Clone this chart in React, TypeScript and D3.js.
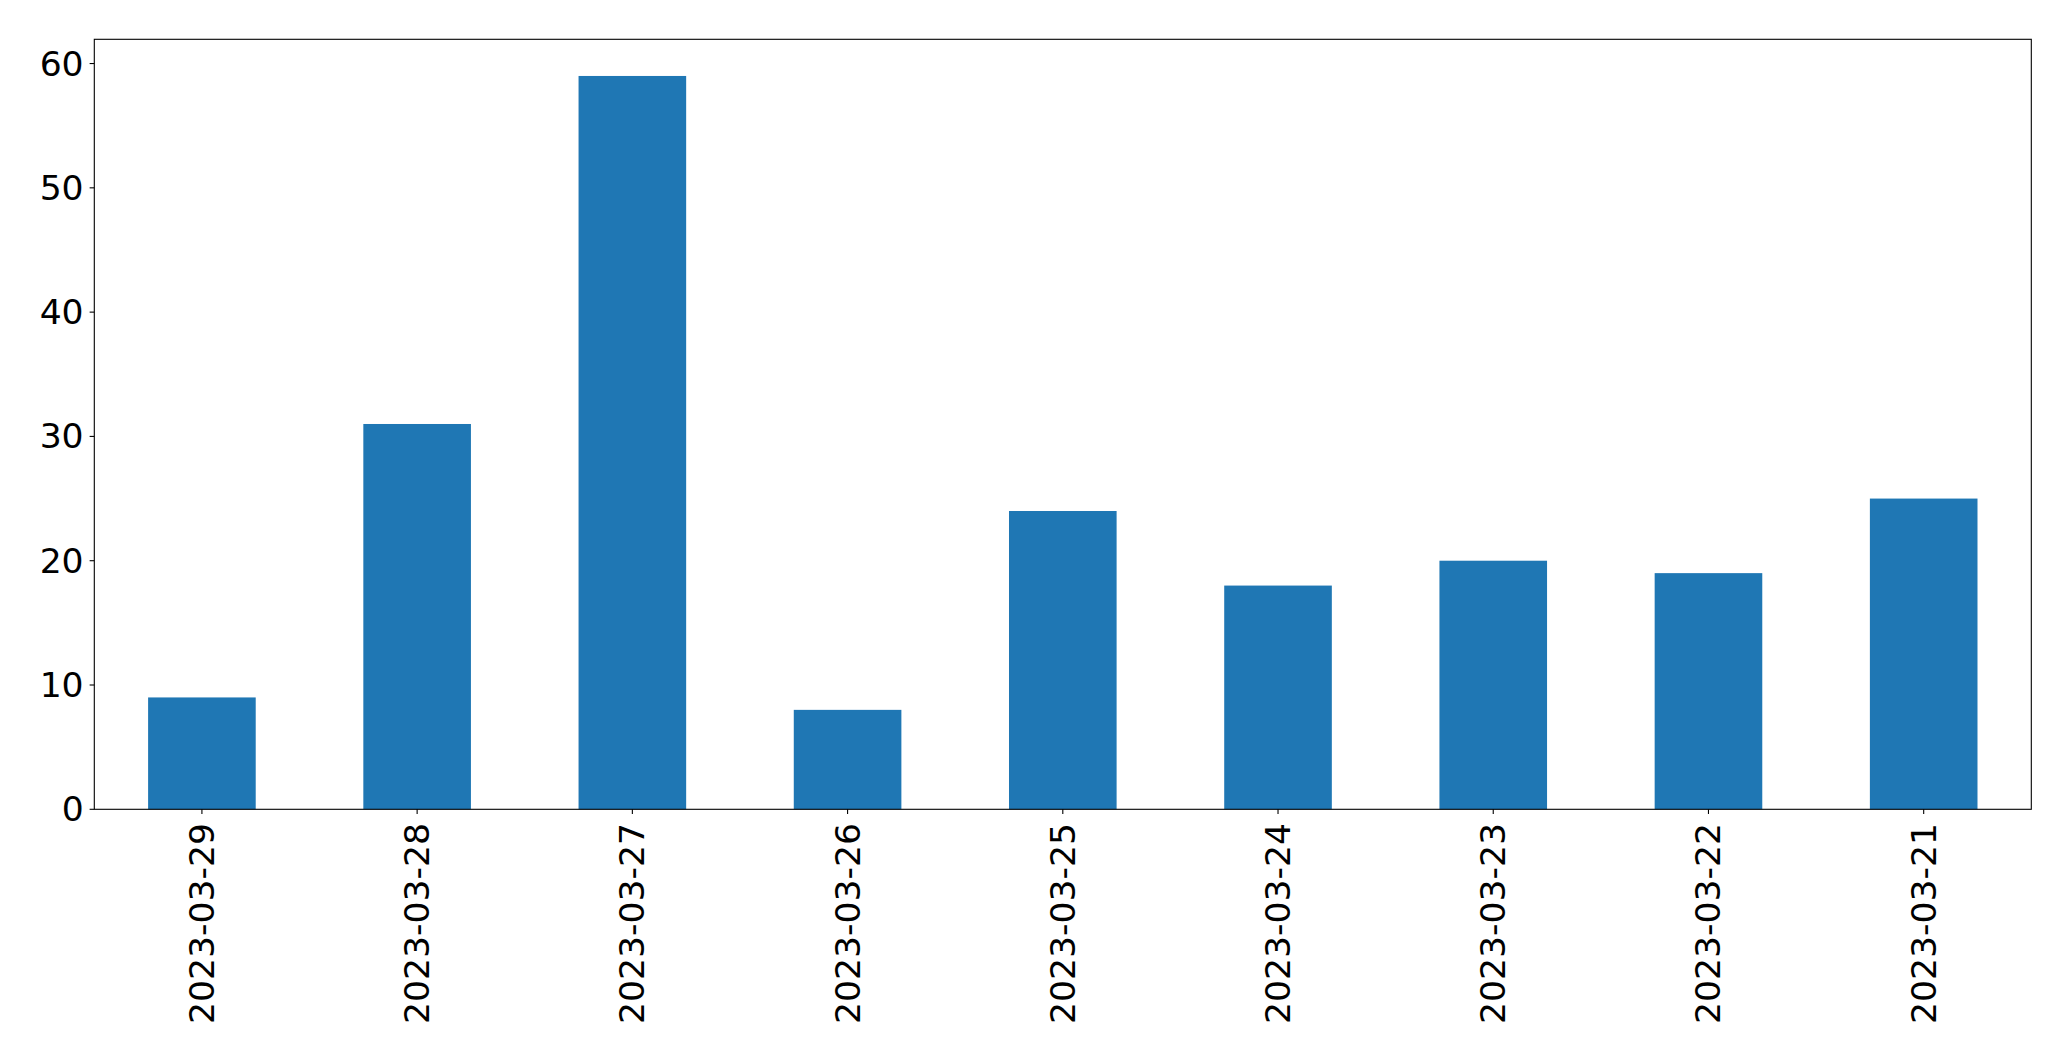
import React from "react";
import * as d3 from "d3";

const categories = ["2023-03-29", "2023-03-28", "2023-03-27", "2023-03-26", "2023-03-25", "2023-03-24", "2023-03-23", "2023-03-22", "2023-03-21"];
const values = [9, 31, 59, 8, 24, 18, 20, 19, 25];
const yTicks = [0, 10, 20, 30, 40, 50, 60];

const W = 2071;
const H = 1061;
const left = 94.3;
const right = 2031.3;
const top = 39.3;
const bottom = 809.3;
const FONT = "DejaVu Sans, sans-serif";
const FS = 34.6;

export default function App() {
  const yMax = d3.max(values)! * 1.05;
  const x = d3.scaleBand<string>().domain(categories).range([left, right]).paddingInner(0.5).paddingOuter(0.25);
  const y = d3.scaleLinear().domain([0, yMax]).range([bottom, top]);
  const tickLen = 4.67;
  return (
    <svg width={W} height={H} style={{ position: "absolute", left: 0, top: 0, background: "#fff" }}>
      <rect x={0} y={0} width={W} height={H} fill="#fff" />
      {categories.map((c, i) => (
        <rect key={c} x={x(c)} y={y(values[i])} width={x.bandwidth()} height={y(0) - y(values[i])} fill="#1f77b4" />
      ))}
      <rect x={left} y={top} width={right - left} height={bottom - top} fill="none" stroke="#000" strokeWidth={1.1} />
      {yTicks.map((t) => (
        <g key={t}>
          <line x1={left - tickLen} x2={left} y1={y(t)} y2={y(t)} stroke="#000" strokeWidth={1.1} />
          <text x={left - tickLen - 6} y={y(t)} textAnchor="end" dominantBaseline="central" fontFamily={FONT} fontSize={FS} fill="#000">
            {t}
          </text>
        </g>
      ))}
      {categories.map((c) => {
        const cx = x(c)! + x.bandwidth() / 2;
        const ty = bottom + tickLen + 9;
        return (
          <g key={c}>
            <line x1={cx} x2={cx} y1={bottom} y2={bottom + tickLen} stroke="#000" strokeWidth={1.1} />
            <text transform={`translate(${cx},${ty}) rotate(-90)`} textAnchor="end" dominantBaseline="central" fontFamily={FONT} fontSize={FS} fill="#000">
              {c}
            </text>
          </g>
        );
      })}
    </svg>
  );
}
